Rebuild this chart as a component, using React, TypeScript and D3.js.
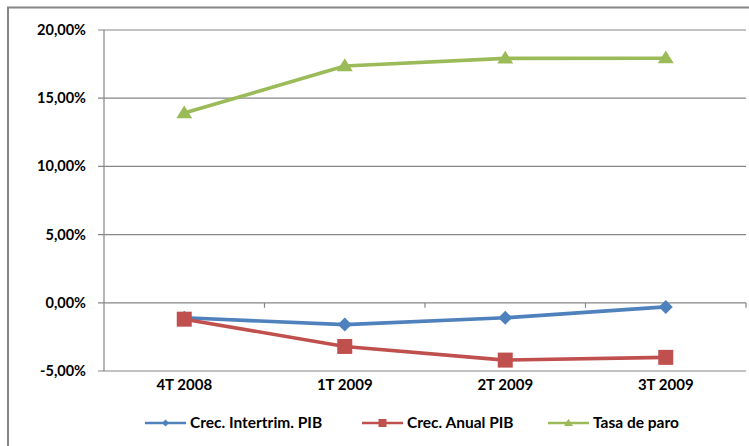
import React from "react";
import * as d3 from "d3";

const categories = ["4T 2008", "1T 2009", "2T 2009", "3T 2009"];
const crecIntertrim = [-1.1, -1.6, -1.1, -0.3];
const crecAnual = [-1.2, -3.2, -4.2, -4.0];
const tasaParo = [13.91, 17.36, 17.92, 17.93];
const yTicks = [-5, 0, 5, 10, 15, 20];
const seriesNames = ["Crec. Intertrim. PIB", "Crec. Anual PIB", "Tasa de paro"];

const W = 749, H = 446;
const plot = { left: 104, right: 746, top: 30, bottom: 371 };
const colors = ["#4F81BD", "#C0504D", "#9BBB59"];
const FONT = "Lato, 'Open Sans', sans-serif";

function marker(kind: number, x: number, y: number, s: number, color: string, key: string) {
  if (kind === 0) {
    const h = s / 2;
    return <path key={key} d={`M${x},${y - h}L${x + h},${y}L${x},${y + h}L${x - h},${y}Z`} fill={color} />;
  }
  if (kind === 1) {
    return <rect key={key} x={x - s / 2} y={y - s / 2} width={s} height={s} fill={color} />;
  }
  const h = s * 0.8;
  return <path key={key} d={`M${x},${y - h * 0.6}L${x + s / 2},${y + h * 0.4}L${x - s / 2},${y + h * 0.4}Z`} fill={color} />;
}

export default function App() {
  const x = d3.scaleBand<string>().domain(categories).range([plot.left, plot.right]);
  const y = d3.scaleLinear().domain([-5, 20]).range([plot.bottom, plot.top]);
  const cx = (c: string) => (x(c) as number) + x.bandwidth() / 2;
  const line = d3.line<[number, number]>().x(d => d[0]).y(d => d[1]);
  const all = [crecIntertrim, crecAnual, tasaParo];
  const fmt = (v: number) => v.toFixed(2).replace(".", ",") + "%";
  const markerSize = [14, 15, 16];
  const legendX = [145, 362, 548];

  return (
    <svg width={W} height={H} style={{ position: "absolute", left: 0, top: 0, background: "#fff" }} fontFamily={FONT}>
      <rect x={8} y={7.5} width={W} height={H} fill="none" stroke="#868686" strokeWidth={2} />
      {yTicks.map(t => (
        <g key={t}>
          <line x1={plot.left - 6} x2={plot.right} y1={y(t)} y2={y(t)} stroke="#868686" strokeWidth={1.2} />
          <text x={86} y={y(t)} dy="0.35em" textAnchor="end" fontSize={14.5} fontWeight={700} fill="#000">{fmt(t)}</text>
        </g>
      ))}
      <line x1={plot.left} x2={plot.left} y1={plot.top} y2={plot.bottom} stroke="#868686" strokeWidth={1.2} />
      {categories.map((c, i) => (
        <line key={"tk" + i} x1={(x(c) as number) + x.bandwidth()} x2={(x(c) as number) + x.bandwidth()} y1={y(0)} y2={y(0) + 5} stroke="#868686" strokeWidth={1.2} />
      ))}
      {categories.map(c => (
        <text key={c} x={cx(c)} y={390} textAnchor="middle" fontSize={15} fontWeight={700} fill="#000">{c}</text>
      ))}
      {[2, 0, 1].map(si => (
        <g key={"s" + si}>
          <path d={line(categories.map((c, i) => [cx(c), y(all[si][i])]) as [number, number][]) || ""} fill="none" stroke={colors[si]} strokeWidth={3.6} strokeLinejoin="round" />
          {categories.map((c, i) => marker(si, cx(c), y(all[si][i]), markerSize[si], colors[si], `m${si}-${i}`))}
        </g>
      ))}
      {seriesNames.map((n, i) => (
        <g key={n}>
          <line x1={legendX[i]} x2={legendX[i] + 41} y1={423} y2={423} stroke={colors[i]} strokeWidth={2.5} />
          {marker(i, legendX[i] + 20.5, 423, i === 0 ? 7 : i === 1 ? 8 : 9, colors[i], "lm" + i)}
          <text x={legendX[i] + 45} y={423} dy="0.35em" fontSize={15.5} fontWeight={700} fill="#000">{n}</text>
        </g>
      ))}
    </svg>
  );
}
